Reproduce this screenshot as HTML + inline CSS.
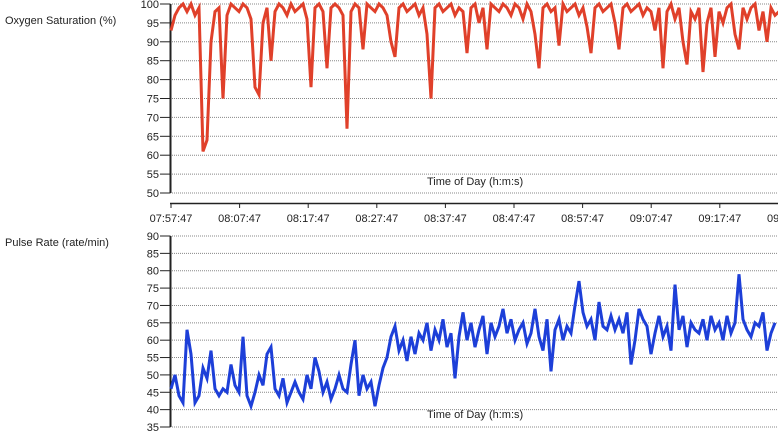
<!DOCTYPE html>
<html><head><meta charset="utf-8">
<style>
html,body{margin:0;padding:0;background:#fff;width:778px;height:433px;overflow:hidden}
svg text{font-family:"Liberation Sans","DejaVu Sans",sans-serif;font-size:11px;fill:#222}
</style></head>
<body>
<svg id="chart" width="778" height="433" viewBox="0 0 778 433" xmlns="http://www.w3.org/2000/svg"></svg>
<script>
const timeLabels = ["07:57:47","08:07:47","08:17:47","08:27:47","08:37:47","08:47:47","08:57:47","09:07:47","09:17:47","09:27:47"];
const spo2Ticks = [50,55,60,65,70,75,80,85,90,95,100];
const pulseTicks = [35,40,45,50,55,60,65,70,75,80,85,90];
// samples every ~0.58 min from 07:57:47
const spo2Values = [93,97,99,100,98,100,97,99,61,64,90,98,99,75,97,100,99,98,100,99,96,78,76,95,99,85,98,100,99,97,100,98,99,100,96,78,99,100,98,83,99,100,99,97,67,98,100,99,88,100,99,98,100,99,97,90,86,99,100,98,99,100,97,99,92,75,99,100,98,99,100,97,99,98,87,99,100,95,99,88,100,99,98,100,99,97,100,99,96,100,98,92,83,99,100,98,99,89,100,98,99,100,97,99,94,87,99,100,98,99,100,95,88,99,100,98,99,100,97,99,98,93,99,83,98,100,96,99,90,84,98,96,99,82,95,99,86,98,95,99,100,92,88,99,96,99,100,93,98,90,99,97,98];
const pulseValues = [46,50,44,42,63,56,42,44,52,49,57,46,44,46,45,53,47,45,61,44,41,45,50,47,56,58,46,44,49,42,45,48,45,43,50,46,55,51,45,48,43,46,50,46,45,53,60,44,50,46,48,41,47,52,55,61,64,57,60,54,61,56,62,60,65,57,63,60,66,58,62,49,61,68,60,65,58,63,67,56,65,61,64,69,62,66,60,63,65,59,62,69,61,57,66,51,63,66,60,64,62,70,77,68,64,66,60,71,64,63,67,63,66,62,68,53,60,69,66,64,56,62,67,61,64,57,76,63,67,58,65,63,62,66,60,67,63,65,60,67,62,65,79,66,63,61,65,64,68,57,62,65];

const NS="http://www.w3.org/2000/svg";
const svg=document.getElementById('chart');
function mk(tag,attrs,parent){const e=document.createElementNS(NS,tag);for(const k in attrs)e.setAttribute(k,attrs[k]);(parent||svg).appendChild(e);return e;}
const X0=171, PX_PER_MIN=6.86, STEP_MIN=4/6.86;
function xScale(mins){return X0+mins*PX_PER_MIN;}
function yTop(v){return 4+(100-v)*(189/50);}
function yBot(v){return 236+(90-v)*(191/55);}

function panel(yFn,ticks,top,bottom,title,titleY,lblName){
  ticks.forEach(t=>{
    const y=yFn(t);
    const g=mk('line',{x1:170,x2:778,y1:y,y2:y,stroke:'#888','stroke-width':1,'stroke-dasharray':'1 1'});
    
    
    const tk=mk('line',{x1:160,x2:170,y1:y,y2:y,stroke:'#222','stroke-width':1});
    
    
    const tx=mk('text',{x:159,y:y+4,'text-anchor':'end'});tx.textContent=t;
    
    
  });
  const ax=mk('line',{x1:170.5,x2:170.5,y1:top,y2:bottom,stroke:'#222','stroke-width':2});
  
  
  const tt=mk('text',{x:5,y:titleY});tt.textContent=title;
  
  
}
panel(yTop,spo2Ticks,4,193,'Oxygen Saturation (%)',24,'spo2-axis-title');
panel(yBot,pulseTicks,236,427,'Pulse Rate (rate/min)',246,'pulse-axis-title');

const xa=mk('line',{x1:170,x2:778,y1:203.5,y2:203.5,stroke:'#222','stroke-width':1.5});


timeLabels.forEach((l,i)=>{
  const x=xScale(i*10);
  const tk=mk('line',{x1:x,x2:x,y1:203,y2:208,stroke:'#222','stroke-width':1});
  
  
  const t=mk('text',{x:x,y:222,'text-anchor':'middle'});t.textContent=l;
  
  
});
[[185,'spo2-x-title'],[418,'pulse-x-title']].forEach(([y,n])=>{
  const t=mk('text',{x:427,y:y});t.textContent='Time of Day (h:m:s)';
  
  
});

function series(vals,yFn,color,name){
  let d='';
  vals.forEach((v,i)=>{const x=xScale(i*STEP_MIN),y=yFn(v);d+=(i?'L':'M')+x.toFixed(1)+' '+y.toFixed(1)+' ';});
  const p=mk('path',{d:d,fill:'none',stroke:color,'stroke-width':3,'stroke-linejoin':'miter'});
  
  
}
series(spo2Values,yTop,'#e0402a','spo2-line');
series(pulseValues,yBot,'#1d3fd8','pulse-line');
</script>
</body></html>
